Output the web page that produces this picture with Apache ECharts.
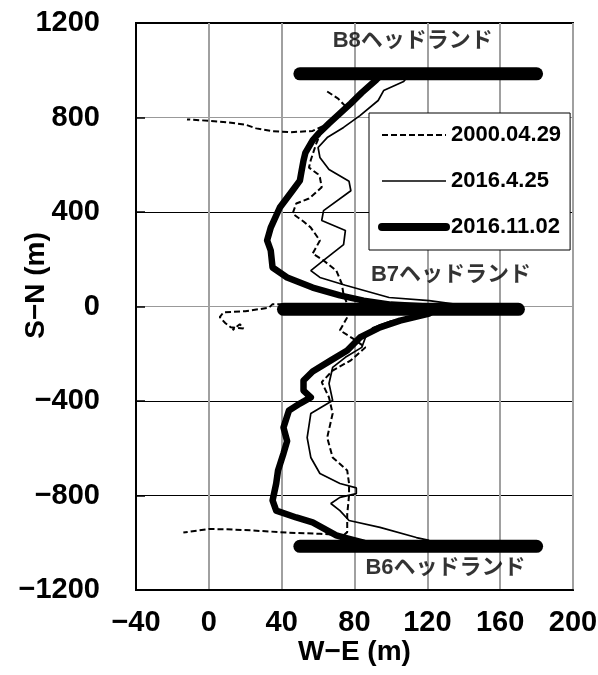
<!DOCTYPE html>
<html>
<head>
<meta charset="utf-8">
<script src="https://cdn.jsdelivr.net/npm/echarts@6/dist/echarts.min.js"></script>
<style>
  html, body { margin: 0; padding: 0; background: #fff; }
  #chart { width: 598px; height: 675px; }
</style>
</head>
<body>
<div id="chart"></div>
<script>
// Shoreline positions along the coast: [W-E (m), S-N (m)]
const surveyNames = ['2000.04.29', '2016.4.25', '2016.11.02'];

// 2000.04.29 survey (dashed), split into its separate traced pieces
const shore2000North = [
  [65, 910], [71, 880], [75, 848], [72, 815], [68, 790], [64, 768], [57, 743],
  [45, 738], [35, 742], [26, 754], [20, 770], [10, 780], [0, 786], [-12, 792]
];
const shore2000Middle = [
  [62, 745], [59, 690], [56, 620], [55, 588], [60, 560], [61, 546], [62, 505],
  [55, 457], [48, 436], [46, 393], [52, 360], [56, 334], [61, 279], [57, 224],
  [63, 195], [70, 152], [73, 97], [74, 50], [76, 10], [55, 10], [35, 10],
  [33, -5], [20, -20], [8, -25], [6, -45], [9, -70], [12, -88], [19, -93],
  [17, -75], [13, -100]
];
const shore2000South = [
  [76, -46], [72, -101], [79, -135], [86, -173], [78, -228], [68, -271],
  [62, -320], [66, -385], [68, -453], [65, -555], [68, -639], [76, -694],
  [77, -749], [77, -800], [76, -880], [76, -955], [74, -968], [61, -962],
  [43, -957], [24, -948], [10, -943], [0, -942], [-14, -957]
];

// 2016.4.25 survey (thin solid)
const shore2016AprNorth = [
  [108, 962], [107, 952], [96, 914], [93, 872], [83, 808], [74, 758], [65, 715],
  [60, 673], [61, 631], [66, 580], [77, 530], [78, 490], [63, 406], [62, 364],
  [75, 322], [74, 262], [63, 195], [56, 152], [61, 123], [75, 90], [99, 38],
  [121, 25], [135, 10], [140, 0]
];
const shore2016AprSouth = [
  [135, -10], [115, -40], [100, -62], [90, -90], [86, -131], [84, -173],
  [75, -215], [68, -258], [66, -326], [68, -398], [56, -453], [54, -555],
  [56, -639], [61, -707], [72, -749], [81, -768], [81, -792], [72, -808],
  [67, -834], [72, -864], [77, -906], [94, -935], [114, -978], [121, -990]
];

// 2016.11.02 survey (thick solid)
const shore2016Nov = [
  [96, 990], [92, 960], [84, 905], [78, 860], [72, 817], [66, 775], [60, 730],
  [57, 703], [53, 650], [52, 618], [51, 576], [50, 533], [46, 491], [39, 419],
  [34, 334], [32, 280], [34, 237], [35, 165], [43, 123], [57, 80], [72, 47],
  [85, 25], [100, 8], [120, 0], [125, -10], [121, -30], [105, -60], [94, -88],
  [83, -131], [76, -186], [67, -228], [57, -275], [52, -313], [52, -356],
  [56, -385], [50, -411], [44, -440], [41, -512], [43, -570], [41, -622],
  [38, -694], [37, -749], [35, -821], [37, -864], [48, -893], [57, -914],
  [65, -948], [70, -969], [76, -982], [85, -1000]
];

// Headland structures: name, west end, east end, S-N position
const headlandNames = ['B8ヘッドランド', 'B7ヘッドランド', 'B6ヘッドランド'];
const headlandWest = [50, 41, 50];
const headlandEast = [180, 170, 180];
const headlandSN = [985, -12, -1015];
// Label anchor points for each headland name
const headlandLabelXY = [[112, 1122], [133, 135], [130, -1105]];

const FONT = "'Liberation Sans', 'Noto Sans CJK JP', sans-serif";
const minus = v => String(v).replace('-', '\u2212');

const chart = echarts.init(document.getElementById('chart'), null, { renderer: 'canvas' });

const dashStyle = { color: '#000', width: 2, type: [6, 3] };
const thinStyle = { color: '#000', width: 1.7 };
const thickStyle = { color: '#000', width: 6.5, cap: 'round', join: 'round' };

const curveSeries = [
  { name: surveyNames[0], data: shore2000North, style: dashStyle },
  { name: surveyNames[0], data: shore2000Middle, style: dashStyle },
  { name: surveyNames[0], data: shore2000South, style: dashStyle },
  { name: surveyNames[1], data: shore2016AprNorth, style: thinStyle },
  { name: surveyNames[1], data: shore2016AprSouth, style: thinStyle },
  { name: surveyNames[2], data: shore2016Nov, style: thickStyle }
].map(s => ({
  type: 'line',
  name: s.name,
  data: s.data,
  showSymbol: false,
  symbol: 'none',
  smooth: false,
  color: '#000',
  lineStyle: s.style,
  z: 3,
  animation: false
}));

const headlandSeries = headlandNames.map((n, i) => ({
  type: 'line',
  name: n,
  data: [[headlandWest[i], headlandSN[i]], [headlandEast[i], headlandSN[i]]],
  showSymbol: false,
  symbol: 'none',
  lineStyle: { color: '#000', width: 13, cap: 'round' },
  z: 4,
  animation: false
}));

const labelSeries = {
  type: 'scatter',
  name: 'headland-labels',
  symbolSize: 0,
  data: headlandLabelXY.map((p, i) => ({ value: p, name: headlandNames[i] })),
  label: {
    show: true,
    position: 'inside',
    formatter: p => p.name,
    color: '#000',
    fontFamily: FONT,
    fontWeight: 'bold',
    fontSize: 22
  },
  silent: true,
  z: 5,
  animation: false
};

chart.setOption({
  animation: false,
  backgroundColor: '#fff',
  grid: {
    left: 136, right: 25, top: 23, bottom: 85,
    containLabel: false,
    outerBoundsMode: 'none',
    show: true, borderColor: '#000', borderWidth: 2, backgroundColor: 'transparent'
  },
  legend: {
    data: [
      { name: surveyNames[0], lineStyle: { width: 2, type: [6, 3] } },
      { name: surveyNames[1], lineStyle: { width: 1.7 } },
      { name: surveyNames[2], lineStyle: { width: 8, cap: 'round' } }
    ],
    orient: 'vertical',
    left: 369, top: 113,
    padding: [10, 9, 11, 9],
    itemGap: 22,
    itemWidth: 64,
    itemHeight: 14,
    itemStyle: { opacity: 0 },
    backgroundColor: '#fff',
    borderColor: '#000',
    borderWidth: 1,
    borderRadius: 0,
    textStyle: { fontFamily: FONT, fontWeight: 'bold', fontSize: 22, color: '#000', lineHeight: 24 },
    z: 10
  },
  xAxis: {
    type: 'value',
    min: -40, max: 200, interval: 40,
    name: 'W\u2212E (m)',
    nameLocation: 'middle',
    nameGap: 48,
    nameMoveOverlap: false,
    nameTextStyle: { fontFamily: FONT, fontWeight: 'bold', fontSize: 28, color: '#000' },
    axisLine: { show: true, onZero: false, lineStyle: { color: '#000', width: 2 } },
    axisTick: { show: false },
    axisLabel: { fontFamily: FONT, fontWeight: 'bold', fontSize: 29, color: '#000', margin: 18, formatter: minus },
    splitLine: { show: true, lineStyle: { color: '#a0a0a0', width: 2 } }
  },
  yAxis: {
    type: 'value',
    min: -1200, max: 1200, interval: 400,
    name: 'S\u2212N (m)',
    nameLocation: 'middle',
    nameGap: 86,
    nameRotate: 90,
    nameMoveOverlap: false,
    nameTextStyle: { fontFamily: FONT, fontWeight: 'bold', fontSize: 28, color: '#000', padding: [0, 0, 0, 42] },
    axisLine: { show: true, onZero: false, lineStyle: { color: '#000', width: 2 } },
    axisTick: { show: true, inside: true, length: 9, lineStyle: { color: '#000', width: 1.5 } },
    axisLabel: { fontFamily: FONT, fontWeight: 'bold', fontSize: 29, color: '#000', margin: 36, formatter: minus },
    splitLine: { show: true, lineStyle: { color: ['#000', '#000', '#000', '#999', '#000', '#999', '#000'], width: 1.2 } }
  },
  series: [...curveSeries, ...headlandSeries, labelSeries]
});
</script>
</body>
</html>
